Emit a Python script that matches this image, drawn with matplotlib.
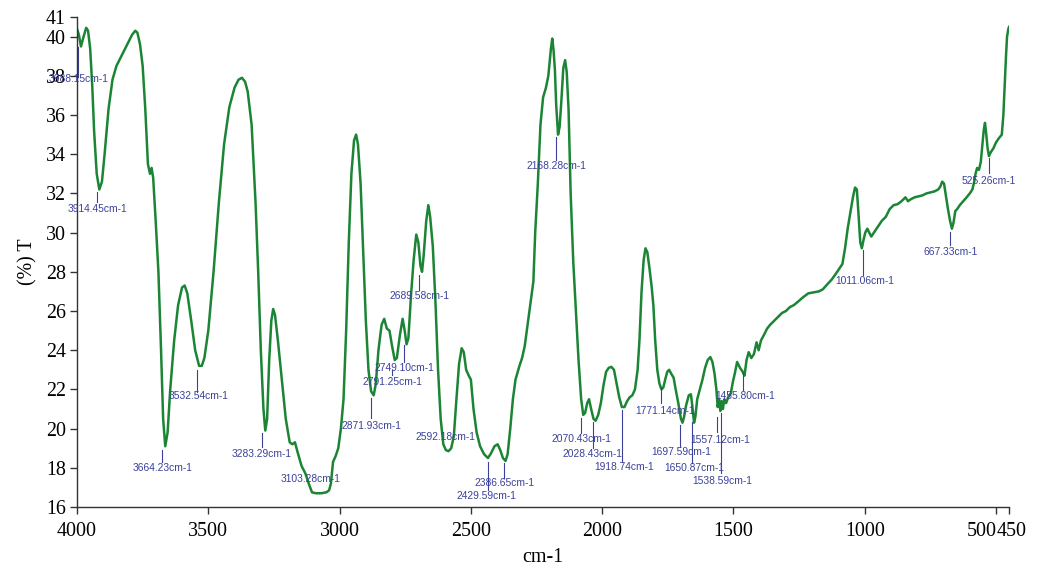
import numpy as np
import matplotlib.pyplot as plt
import matplotlib.transforms as mtransforms

# FTIR spectrum (wavenumber cm-1, transmittance %)
wavenumber = [4000, 3993, 3985, 3975, 3965, 3958, 3950, 3942, 3935, 3925, 3915, 3905, 3895, 3880,
              3865, 3850, 3835, 3820, 3805, 3790, 3778, 3770, 3760, 3750, 3740, 3730, 3722, 3716,
              3710, 3700, 3690, 3680, 3672, 3664, 3655, 3645, 3630, 3615, 3600, 3590, 3580, 3565,
              3550, 3535, 3525, 3515, 3500, 3480, 3460, 3440, 3420, 3400, 3385, 3372, 3360, 3350, 3335,
              3320, 3310, 3300, 3290, 3283, 3276, 3268, 3260, 3253, 3246, 3235, 3220, 3205, 3190,
              3180, 3170, 3160, 3145, 3130, 3115, 3105, 3090, 3070, 3050, 3040, 3033, 3025, 3015,
              3005, 2995, 2985, 2975, 2965, 2955, 2945, 2937, 2930, 2920, 2910, 2900, 2890, 2880,
              2870, 2862, 2852, 2840, 2830, 2820, 2810, 2800, 2790, 2782, 2770, 2760, 2752, 2745,
              2738, 2728, 2718, 2708, 2700, 2692, 2686, 2680, 2670, 2662, 2655, 2645, 2635, 2625,
              2615, 2605, 2595, 2585, 2575, 2565, 2555, 2545, 2535, 2527, 2518, 2508, 2500, 2490,
              2478, 2465, 2450, 2435, 2425, 2410, 2398, 2388, 2378, 2368, 2360, 2350, 2340, 2330,
              2315, 2305, 2295, 2285, 2272, 2262, 2255, 2245, 2235, 2225, 2214, 2205, 2195, 2190,
              2185, 2180, 2175, 2168, 2162, 2155, 2148, 2141, 2135, 2128, 2120, 2110, 2100, 2090,
              2080, 2072, 2065, 2057, 2050, 2042, 2033, 2025, 2015, 2005, 1995, 1985, 1975, 1965,
              1955, 1945, 1935, 1925, 1915, 1905, 1895, 1885, 1875, 1865, 1858, 1850, 1842, 1835,
              1828, 1820, 1812, 1805, 1798, 1790, 1782, 1774, 1767, 1760, 1752, 1745, 1737, 1728,
              1720, 1710, 1700, 1694, 1688, 1680, 1670, 1662, 1657, 1650, 1645, 1638, 1628, 1618,
              1608, 1598, 1588, 1580, 1572, 1565, 1560, 1555, 1550, 1545, 1540, 1535, 1528, 1520,
              1510, 1502, 1495, 1486, 1475, 1465, 1458, 1450, 1442, 1432, 1422, 1412, 1404, 1395,
              1383, 1372, 1360, 1345, 1330, 1315, 1300, 1285, 1270, 1252, 1235, 1215, 1195, 1175,
              1160, 1140, 1126, 1110, 1095, 1085, 1075, 1065, 1055, 1045, 1037, 1030, 1024, 1017,
              1011, 1005, 998, 990, 983, 975, 965, 950, 935, 920, 905, 890, 875, 860,
              845, 835, 825, 810, 795, 780, 765, 750, 735, 720, 712, 705, 698, 690,
              683, 675, 668, 662, 655, 648, 638, 625, 612, 600, 590, 583, 578, 572,
              565, 558, 552, 547, 542, 537, 532, 527, 520, 510, 500, 490, 478, 472,
              467, 462, 458, 453, 450]
transmittance = [40.4, 40.1, 39.5, 40.0, 40.45, 40.3, 39.4, 37.5, 35.2, 33.0, 32.2, 32.6, 34.0, 36.3,
                 37.8, 38.5, 38.9, 39.3, 39.7, 40.1, 40.3, 40.2, 39.6, 38.5, 36.3, 33.5, 33.0, 33.3,
                 32.8, 30.5, 28.0, 24.0, 20.5, 19.1, 19.8, 22.0, 24.5, 26.3, 27.2, 27.3, 26.9, 25.5,
                 24.0, 23.2, 23.2, 23.6, 25.0, 28.0, 31.5, 34.5, 36.4, 37.4, 37.8, 37.9, 37.7, 37.2, 35.5,
                 31.5, 28.0, 24.0, 21.0, 19.9, 20.5, 23.5, 25.5, 26.1, 25.8, 24.5, 22.5, 20.5, 19.3,
                 19.2, 19.3, 18.8, 18.1, 17.7, 17.1, 16.75, 16.7, 16.7, 16.75, 16.85, 17.2, 18.3, 18.6,
                 19.0, 20.0, 21.5, 25.0, 29.5, 33.0, 34.7, 35.0, 34.5, 32.5, 29.0, 25.5, 23.0, 21.9,
                 21.7, 22.3, 24.0, 25.3, 25.6, 25.1, 25.0, 24.2, 23.5, 23.6, 24.8, 25.6, 25.0, 24.3,
                 24.6, 26.8, 28.6, 29.9, 29.5, 28.3, 28.0, 28.8, 30.6, 31.4, 30.8, 29.3, 26.5, 23.0,
                 20.5, 19.2, 18.9, 18.85, 19.0, 19.6, 21.5, 23.3, 24.1, 23.9, 23.0, 22.7, 22.5, 21.0,
                 19.8, 19.1, 18.7, 18.5, 18.7, 19.1, 19.2, 18.9, 18.5, 18.35, 18.7, 20.0, 21.5, 22.5,
                 23.2, 23.6, 24.2, 25.2, 26.5, 27.5, 30.0, 32.5, 35.5, 36.9, 37.4, 38.0, 39.4, 39.9,
                 39.3, 38.3, 36.5, 35.0, 35.4, 36.8, 38.4, 38.8, 38.2, 36.3, 32.0, 28.5, 26.0, 23.5,
                 21.5, 20.7, 20.8, 21.3, 21.5, 21.0, 20.5, 20.4, 20.7, 21.3, 22.2, 22.9, 23.1, 23.15,
                 23.0, 22.3, 21.6, 21.1, 21.1, 21.4, 21.6, 21.7, 22.0, 23.0, 24.5, 27.0, 28.6, 29.2,
                 29.0, 28.2, 27.3, 26.3, 24.5, 23.0, 22.3, 22.0, 22.1, 22.5, 22.9, 23.0, 22.8, 22.6,
                 22.0, 21.3, 20.5, 20.3, 20.6, 21.2, 21.7, 21.75, 21.2, 20.3, 20.6, 21.5, 22.0, 22.5,
                 23.1, 23.5, 23.65, 23.4, 22.8, 22.0, 21.1, 21.5, 20.9, 21.4, 21.0, 21.5, 21.3, 21.6,
                 21.8, 22.4, 22.8, 23.4, 23.1, 22.9, 22.7, 23.5, 23.9, 23.6, 23.8, 24.4, 24.0, 24.5,
                 24.8, 25.1, 25.3, 25.5, 25.7, 25.9, 26.0, 26.2, 26.3, 26.5, 26.7, 26.9, 26.95, 27.0,
                 27.1, 27.4, 27.6, 27.9, 28.2, 28.4, 29.2, 30.2, 31.0, 31.8, 32.3, 32.2, 31.0, 29.5,
                 29.2, 29.6, 30.0, 30.2, 30.0, 29.8, 30.0, 30.3, 30.6, 30.8, 31.2, 31.4, 31.45, 31.6,
                 31.8, 31.6, 31.7, 31.8, 31.85, 31.9, 32.0, 32.05, 32.1, 32.2, 32.35, 32.6, 32.5, 31.8,
                 31.2, 30.6, 30.2, 30.5, 31.1, 31.2, 31.4, 31.6, 31.8, 32.0, 32.2, 32.6, 33.0, 33.3,
                 33.2, 33.6, 34.5, 35.2, 35.6, 35.0, 34.3, 33.9, 34.1, 34.3, 34.6, 34.8, 35.0, 36.0,
                 37.5, 39.0, 40.0, 40.4, 40.5]

# peak labels: value, label centre (x, y), marker line x and y range (None = no marker)
peak_vals = [3988.15, 3914.45, 3664.23, 3532.54, 3283.29, 3103.28, 2871.93, 2791.25, 2749.10,
             2689.58, 2592.18, 2386.65, 2429.59, 2168.28, 2070.43, 2028.43, 1918.74, 1771.14,
             1697.59, 1650.87, 1557.12, 1538.59, 1455.80, 1011.06, 667.33, 525.26]
label_x = [3996, 3922, 3674, 3538, 3296, 3111, 2878, 2798, 2752, 2696, 2595, 2372, 2439, 2174,
           2078, 2036, 1918, 1761, 1698, 1651, 1551, 1542, 1456, 1000, 673, 527]
label_y = [37.84, 31.2, 17.99, 21.66, 18.7, 17.43, 20.13, 22.38, 23.09, 26.77, 19.57, 17.22,
           16.56, 33.4, 19.47, 18.7, 18.04, 20.9, 18.8, 17.99, 19.42, 17.33, 21.66, 27.53, 29.0, 32.63]
mark_x = [3996, 3924, 3676, 3542, 3294, None, 2882, 2801, 2756, 2698, None, 2374, 2435, 2175,
          2080, 2034, 1924, 1775, 1702, 1656, 1561, 1546, 1462, 1007, 675, 527]
mark_top = [39.47, 32.07, 18.9, 23.0, 19.78, None, 21.56, 22.99, 24.27, 27.84, None, 18.24, 18.3,
            34.88, 20.54, 20.34, 20.95, 22.12, 20.18, 20.34, 20.6, 20.8, 22.84, 29.1, 30.03, 33.8]
mark_bot = [37.94, 31.56, 18.3, 21.87, 19.06, None, 20.54, 22.73, 23.4, 27.07, None, 17.48, 16.87,
            33.7, 19.78, 19.0, 18.3, 21.3, 19.06, 18.24, 19.83, 17.73, 21.97, 27.84, 29.37, 33.04]

xticks = [4000, 3500, 3000, 2500, 2000, 1500, 1000, 500, 450]
yticks = [16, 18, 20, 22, 24, 26, 28, 30, 32, 34, 36, 38, 40, 41]

serif = 'Liberation Serif'
blue = '#3b4199'

fig = plt.figure(figsize=(10.38, 5.73), dpi=100)
ax = fig.add_axes([0.0742, 0.1152, 0.898, 0.8551])

ax.plot(wavenumber, transmittance, color='#1b8535', lw=1.8, solid_joinstyle='round')

for i in range(len(peak_vals)):
    if mark_x[i] is not None:
        ax.plot([mark_x[i], mark_x[i]], [mark_bot[i], mark_top[i]], color=blue, lw=0.8)
    ax.text(label_x[i], label_y[i], '%.2fcm-1' % peak_vals[i], color=blue, fontsize=7.4,
            family='Liberation Sans', ha='center', va='center')

ax.set_xlim(4000, 450)
ax.set_ylim(16, 41)
ax.set_xticks(xticks)
ax.set_xticklabels([str(t) for t in xticks])
ax.set_yticks(yticks)
ax.set_yticklabels([str(t) for t in yticks])

for s in ['top', 'right']:
    ax.spines[s].set_visible(False)
for s in ['left', 'bottom']:
    ax.spines[s].set_color('#333333')
    ax.spines[s].set_linewidth(1.0)

ax.tick_params(direction='out', length=5, width=1, color='#333333', labelsize=14.4, pad=3)
ax.tick_params(axis='x', pad=6)
for lab in ax.get_xticklabels() + ax.get_yticklabels():
    lab.set_family(serif)

# the last two x labels sit side by side: "500" ends at its tick, "450" starts there
xlabs = ax.get_xticklabels()
xlabs[-2].set_ha('right')
xlabs[-2].set_transform(xlabs[-2].get_transform() +
                        mtransforms.ScaledTranslation(1 / 100, 0, fig.dpi_scale_trans))
xlabs[-1].set_ha('left')
xlabs[-1].set_transform(xlabs[-1].get_transform() +
                        mtransforms.ScaledTranslation(-13 / 100, 0, fig.dpi_scale_trans))

ax.set_xlabel('cm-1', family=serif, fontsize=14.4, labelpad=5)
ax.set_ylabel('(%) T', family=serif, fontsize=14.4, labelpad=6)

plt.savefig('out.png', dpi=100)
